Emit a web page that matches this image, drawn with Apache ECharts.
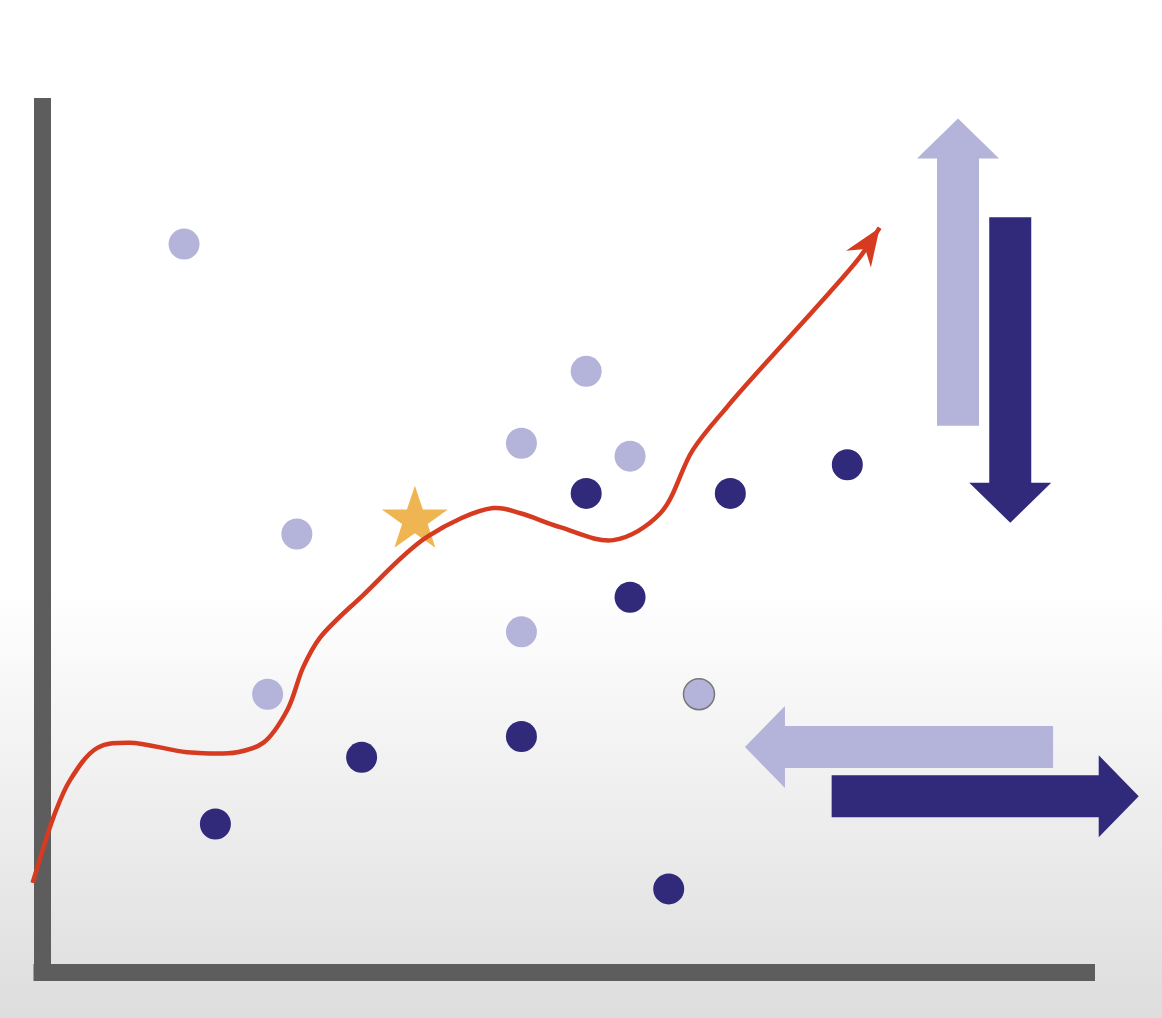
<!DOCTYPE html>
<html>
<head>
<meta charset="utf-8">
<title>trend</title>
<script src="https://cdn.jsdelivr.net/npm/echarts@6/dist/echarts.min.js"></script>
<style>
html,body{margin:0;padding:0;background:#fff;}
#main{width:1162px;height:1018px;}
</style>
</head>
<body>
<div id="main"></div>
<script>
// light dots
var lightPts = [[13.6,84.1],[52.1,69.4],[45.9,61.1],[56.3,59.6],[24.4,50.6],[45.9,39.3],[21.6,32.1]];
// light dot with grey ring
var ringPts = [[62.9,32.1]];
// dark dots
var darkPts = [[52.1,55.3],[65.9,55.3],[77.1,58.6],[56.3,43.3],[30.6,24.8],[45.9,27.2],[16.6,17.1],[60.0,9.6]];
// star
var starPts = [[35.7,52.6]];
// red trend curve
var curveX = [-0.9,1.1,2.7,5.3,8.4,13.9,18.7,21.2,23.5,25.0,26.6,30.7,36.9,43.2,45.8,49.6,54.7,59.2,62.3,65.6,69.4,74.2,78.3,80.2];
var curveY = [10.3,17.9,22.2,25.9,26.5,25.4,25.4,26.5,30.3,35.2,38.6,43.5,50.3,53.6,53.0,51.4,49.9,53.0,60.3,65.3,70.5,76.9,82.6,86.0];
// block arrows: from -> to
var arrowFrom = [[87.7,63.1],[92.7,87.2],[96.8,26.0],[75.6,20.3]];
var arrowTo   = [[87.7,98.6],[92.7,51.9],[67.3,26.0],[105.0,20.3]];

var LIGHT = '#b4b3d9', DARK = '#312a7b', RED = '#d63a20';
var arrowColors = [LIGHT, DARK, LIGHT, DARK];

var arrowData = arrowFrom.map(function(f, i){ return [f[0], f[1], arrowTo[i][0], arrowTo[i][1]]; });

var starPath = 'path://M50,0 L61.8,35.1 L98.9,35.1 L68.9,56.8 L80.4,92 L50,70.3 L19.6,92 L31.1,56.8 L1.1,35.1 L38.2,35.1 Z';

var chart = echarts.init(document.getElementById('main'));

function blockArrow(params, api){
	var a = api.coord([api.value(0), api.value(1)]);
	var b = api.coord([api.value(2), api.value(3)]);
	var dx = b[0]-a[0], dy = b[1]-a[1];
	var len = Math.sqrt(dx*dx+dy*dy);
	var ux = dx/len, uy = dy/len, px = -uy, py = ux;
	var hw = 21, HW = 41, HL = 40;
	var bx = b[0]-ux*HL, by = b[1]-uy*HL;
	var pts = [
		[a[0]+px*hw, a[1]+py*hw],
		[bx+px*hw, by+py*hw],
		[bx+px*HW, by+py*HW],
		[b[0], b[1]],
		[bx-px*HW, by-py*HW],
		[bx-px*hw, by-py*hw],
		[a[0]-px*hw, a[1]-py*hw]
	];
	return {type:'polygon', shape:{points:pts}, style:{fill:arrowColors[params.dataIndex]}};
}

function dist(a, b){ var dx=a[0]-b[0], dy=a[1]-b[1]; return Math.sqrt(Math.sqrt(dx*dx+dy*dy)) || 1e-4; }

// centripetal catmull-rom -> bezier, plus arrow head
function trendCurve(params, api){
	var p = curveX.map(function(x, i){ return api.coord([x, curveY[i]]); });
	var n = p.length;
	var d = 'M' + p[0][0] + ',' + p[0][1];
	for (var i = 0; i < n-1; i++) {
		var p1 = p[i], p2 = p[i+1];
		var p0 = p[i-1] || [2*p1[0]-p2[0], 2*p1[1]-p2[1]];
		var p3 = p[i+2] || [2*p2[0]-p1[0], 2*p2[1]-p1[1]];
		var d1 = dist(p0,p1), d2 = dist(p1,p2), d3 = dist(p2,p3);
		var c1 = [0,0], c2 = [0,0];
		for (var k = 0; k < 2; k++) {
			c1[k] = (d1*d1*p2[k] - d2*d2*p0[k] + (2*d1*d1 + 3*d1*d2 + d2*d2)*p1[k]) / (3*d1*(d1+d2));
			c2[k] = (d3*d3*p1[k] - d2*d2*p3[k] + (2*d3*d3 + 3*d3*d2 + d2*d2)*p2[k]) / (3*d3*(d3+d2));
		}
		d += ' C' + c1[0] + ',' + c1[1] + ' ' + c2[0] + ',' + c2[1] + ' ' + p2[0] + ',' + p2[1];
	}
	var b = p[n-1], a = p[n-2];
	var dx = b[0]-a[0], dy = b[1]-a[1];
	var len = Math.sqrt(dx*dx+dy*dy);
	var ux = dx/len, uy = dy/len, px = -uy, py = ux;
	var L = 38, W = 15;
	var head = [
		[b[0], b[1]],
		[b[0]-ux*L+px*W, b[1]-uy*L+py*W],
		[b[0]-ux*L*0.68, b[1]-uy*L*0.68],
		[b[0]-ux*L-px*W, b[1]-uy*L-py*W]
	];
	return {type:'group', children:[
		{type:'path', shape:{pathData:d}, style:{fill:null, stroke:RED, lineWidth:4.5}},
		{type:'polygon', shape:{points:head}, style:{fill:RED}}
	]};
}

var option = {
	animation: false,
	backgroundColor: {
		type:'linear', x:0, y:0, x2:0, y2:1,
		colorStops:[{offset:0,color:'#ffffff'},{offset:0.58,color:'#ffffff'},{offset:0.78,color:'#efefef'},{offset:1,color:'#dddddd'}]
	},
	grid: {left:42, right:75.5, top:106.5, bottom:46, outerBoundsMode:'none'},
	xAxis: {
		type:'value', min:0, max:100, z:0,
		axisLine:{lineStyle:{color:'#5d5d5d', width:17, cap:'square'}},
		axisTick:{show:false}, axisLabel:{show:false}, splitLine:{show:false}
	},
	yAxis: {
		type:'value', min:0, max:100, z:0,
		axisLine:{show:true, lineStyle:{color:'#5d5d5d', width:17, cap:'square'}},
		axisTick:{show:false}, axisLabel:{show:false}, splitLine:{show:false}
	},
	series: [
		{type:'scatter', data:lightPts, symbolSize:31, itemStyle:{color:LIGHT, opacity:1}, z:3},
		{type:'scatter', data:ringPts, symbolSize:31, itemStyle:{color:LIGHT, borderColor:'#777', borderWidth:1.5, opacity:1}, z:3},
		{type:'scatter', data:darkPts, symbolSize:31, itemStyle:{color:DARK, opacity:1}, z:3},
		{type:'scatter', data:starPts, symbol:starPath, symbolSize:66, symbolKeepAspect:true, itemStyle:{color:'#efb552', opacity:1}, z:3},
		{type:'custom', renderItem:trendCurve, clip:false, z:10, data:[[curveX[0], curveY[0]]]},
		{type:'custom', renderItem:blockArrow, clip:false, z:3, data:arrowData}
	]
};
chart.setOption(option);
</script>
</body>
</html>
